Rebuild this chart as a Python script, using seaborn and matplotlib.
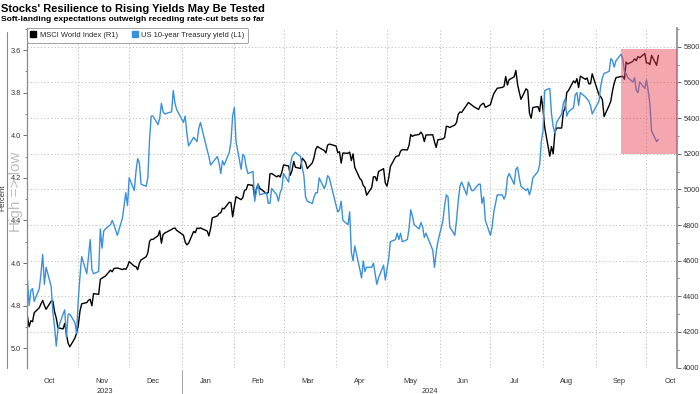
import pandas as pd
import seaborn as sns
import matplotlib.pyplot as plt
import matplotlib.dates as mdates
import matplotlib.ticker as mticker
import matplotlib.transforms as mtransforms
from matplotlib.lines import Line2D
from matplotlib.patches import Rectangle

# trading days shown: Oct 2 2023 - Oct 8 2024, US market holidays removed
holidays = ["2023-11-23", "2023-12-25", "2024-01-01", "2024-01-15", "2024-02-19",
            "2024-03-29", "2024-05-27", "2024-06-19", "2024-07-04", "2024-09-02"]
dates = pd.bdate_range("2023-10-02", "2024-10-08")
dates = dates[~dates.isin(pd.to_datetime(holidays))]

# MSCI World Index (R1), one row per month
msci = [
    4288, 4229, 4263, 4258, 4308, 4336, 4358, 4377, 4349, 4327, 4373, 4373, 4314, 4278, 4224, 4217, 4248, 4186, 4137, 4117, 4166, 4194,
    4237, 4318, 4358, 4365, 4378, 4383, 4347, 4415, 4411, 4496, 4502, 4508, 4514, 4547, 4538, 4556, 4559, 4550, 4555, 4551, 4568,
    4595, 4569, 4567, 4549, 4585, 4604, 4622, 4644, 4707, 4720, 4719, 4740, 4768, 4698, 4747, 4755, 4775, 4781, 4783, 4770,
    4743, 4705, 4689, 4697, 4764, 4757, 4783, 4780, 4784, 4766, 4739, 4780, 4840, 4851, 4865, 4869, 4894, 4891, 4928, 4925, 4846,
    4906, 4959, 4942, 4954, 4995, 4998, 5027, 5022, 4953, 5001, 5030, 5006, 4976, 4982, 5087, 5089, 5070, 5078, 5069, 5096,
    5137, 5131, 5079, 5105, 5157, 5124, 5117, 5175, 5165, 5150, 5117, 5149, 5179, 5225, 5241, 5234, 5218, 5204, 5248, 5254,
    5243, 5205, 5211, 5147, 5204, 5202, 5209, 5161, 5199, 5123, 5061, 5051, 5022, 5011, 4967, 5010, 5070, 5071, 5048, 5100, 5116, 5036,
    5018, 5064, 5128, 5181, 5187, 5188, 5214, 5223, 5221, 5247, 5308, 5297, 5303, 5308, 5321, 5307, 5268, 5305, 5306, 5267, 5235, 5278,
    5283, 5291, 5354, 5352, 5347, 5361, 5375, 5421, 5434, 5431, 5473, 5487, 5473, 5465, 5448, 5469, 5478, 5483, 5460,
    5475, 5509, 5537, 5567, 5572, 5577, 5633, 5585, 5615, 5631, 5667, 5588, 5545, 5505, 5564, 5555, 5427, 5399, 5459, 5464, 5436, 5522,
    5447, 5347, 5186, 5240, 5199, 5319, 5344, 5344, 5435, 5455, 5543, 5554, 5608, 5597, 5621, 5571, 5635, 5617, 5625, 5592, 5592, 5648,
    5529, 5520, 5503, 5408, 5471, 5496, 5554, 5596, 5626, 5633, 5634, 5618, 5714, 5703, 5718, 5732, 5722, 5745, 5738, 5762,
    5709, 5709, 5700, 5751, 5696, 5751,
]

# US 10-year Treasury yield (L1), percent
ust10y = [
    4.68, 4.80, 4.73, 4.72, 4.78, 4.72, 4.65, 4.56, 4.70, 4.62, 4.71, 4.83, 4.90, 4.99, 4.91, 4.84, 4.82, 4.95, 4.84, 4.84, 4.88, 4.93,
    4.77, 4.66, 4.57, 4.65, 4.57, 4.49, 4.63, 4.65, 4.64, 4.44, 4.53, 4.45, 4.44, 4.42, 4.40, 4.42, 4.47, 4.39, 4.33, 4.27, 4.33,
    4.20, 4.26, 4.17, 4.11, 4.13, 4.23, 4.24, 4.20, 4.02, 3.91, 3.91, 3.95, 3.92, 3.85, 3.89, 3.90, 3.89, 3.79, 3.85, 3.88,
    3.94, 3.91, 3.99, 4.05, 4.01, 4.02, 4.03, 3.97, 3.94, 4.07, 4.10, 4.14, 4.13, 4.10, 4.13, 4.18, 4.12, 4.14, 4.08, 4.03, 3.91,
    3.87, 4.03, 4.16, 4.09, 4.10, 4.15, 4.18, 4.17, 4.31, 4.26, 4.23, 4.28, 4.27, 4.32, 4.32, 4.25, 4.28, 4.31, 4.27, 4.25,
    4.18, 4.22, 4.14, 4.10, 4.09, 4.08, 4.10, 4.15, 4.19, 4.29, 4.31, 4.32, 4.29, 4.27, 4.27, 4.20, 4.25, 4.23, 4.19, 4.20,
    4.33, 4.36, 4.35, 4.31, 4.40, 4.42, 4.36, 4.55, 4.59, 4.52, 4.63, 4.67, 4.59, 4.64, 4.62, 4.62, 4.60, 4.65, 4.70, 4.67, 4.61, 4.68,
    4.63, 4.58, 4.50, 4.49, 4.46, 4.49, 4.46, 4.50, 4.49, 4.44, 4.35, 4.38, 4.42, 4.44, 4.41, 4.43, 4.48, 4.46, 4.54, 4.62, 4.55, 4.50,
    4.40, 4.33, 4.28, 4.29, 4.43, 4.47, 4.40, 4.31, 4.24, 4.22, 4.28, 4.22, 4.26, 4.26, 4.23, 4.23, 4.32, 4.29, 4.40,
    4.47, 4.43, 4.36, 4.28, 4.28, 4.30, 4.28, 4.20, 4.18, 4.23, 4.16, 4.15, 4.20, 4.24, 4.26, 4.25, 4.28, 4.25, 4.20, 4.17, 4.14, 4.03,
    3.98, 3.79, 3.78, 3.90, 3.96, 3.99, 3.94, 3.90, 3.85, 3.83, 3.91, 3.89, 3.87, 3.81, 3.80, 3.86, 3.80, 3.82, 3.83, 3.84, 3.86, 3.90,
    3.84, 3.77, 3.73, 3.71, 3.70, 3.64, 3.65, 3.68, 3.65, 3.62, 3.64, 3.70, 3.71, 3.73, 3.75, 3.73, 3.79, 3.80, 3.75, 3.78,
    3.74, 3.79, 3.85, 3.98, 4.03, 4.02,
]

# highlighted box (R1 units)
box_start = "2024-09-16"
box_low, box_high = 5200, 5785

df = pd.DataFrame({"date": dates, "msci": msci, "yield": ust10y})

sns.set_theme(style="white")
plt.rcParams["font.family"] = ["Liberation Sans", "DejaVu Sans"]

blue = "#3a91db"
tick_col = "#333333"

fig = plt.figure(figsize=(7, 3.94), dpi=100)
ax = fig.add_axes([27 / 700, 1 - 368 / 394, 650 / 700, 340 / 394])
ax_l = ax.twinx()
ax.yaxis.tick_right()
ax_l.yaxis.tick_left()

sns.lineplot(data=df, x="date", y="msci", ax=ax, color="black", linewidth=1.0)
sns.lineplot(data=df, x="date", y="yield", ax=ax_l, color=blue, linewidth=1.0)

xmin, xmax = pd.Timestamp("2023-10-01 18:00"), pd.Timestamp("2024-10-19")
ax.set_xlim(xmin, xmax)
ax.set_ylim(3998, 5905)
ax_l.set_ylim(5.093, 3.4965)
for a in (ax, ax_l):
    a.set_xlabel("")
    a.set_ylabel("")
    for s in a.spines.values():
        s.set_visible(False)
ax.spines["right"].set_visible(True)
ax.spines["right"].set_color("#8a8a8a")
ax.spines["right"].set_linewidth(1.2)
ax_l.spines["left"].set_visible(True)
ax_l.spines["left"].set_color("#8a8a8a")
ax_l.spines["left"].set_linewidth(0.9)

# right axis
ax.yaxis.set_major_locator(mticker.MultipleLocator(200))
ax.yaxis.set_minor_locator(mticker.MultipleLocator(100))
ax.yaxis.set_major_formatter(mticker.FormatStrFormatter("%d"))
ax.tick_params(axis="y", which="major", direction="out", length=3, width=0.6,
               color="#555555", labelsize=5.3, labelcolor=tick_col, pad=1.5)
ax.tick_params(axis="y", which="minor", direction="out", length=1.5, width=0.5, color="#555555")

# left axis
ax_l.yaxis.set_major_locator(mticker.MultipleLocator(0.2))
ax_l.yaxis.set_minor_locator(mticker.MultipleLocator(0.1))
ax_l.yaxis.set_major_formatter(mticker.FormatStrFormatter("%.1f"))
ax_l.tick_params(axis="y", which="major", direction="out", length=3, width=0.6,
                 color="#555555", labelsize=5.3, labelcolor=tick_col, pad=1.5)
ax_l.tick_params(axis="y", which="minor", direction="out", length=1.5, width=0.5, color="#555555")

# x axis: ticks at month starts, labels mid-month
ax.xaxis.set_major_locator(mdates.MonthLocator())
ax.xaxis.set_major_formatter(mticker.NullFormatter())
ax.xaxis.set_minor_locator(mdates.MonthLocator(bymonthday=15))
ax.xaxis.set_minor_formatter(mdates.DateFormatter("%b"))
ax.tick_params(axis="x", which="major", direction="out", length=3, width=0.6, color="#555555")
ax.tick_params(axis="x", which="minor", length=0, labelsize=5.3, labelcolor=tick_col, pad=7.5)
ax_l.tick_params(axis="x", which="both", length=0, labelbottom=False)

ax.grid(True, which="major", axis="both", color="#b5b5b5", linestyle=(0, (1, 2.5)), linewidth=0.7)
ax.set_axisbelow(True)

# year labels and separator
trans = mtransforms.blended_transform_factory(ax.transData, ax.transAxes)
jan1 = pd.Timestamp("2024-01-01")
ax.add_line(Line2D([jan1, jan1], [-0.005, -0.085], transform=trans, color="#999999",
                   linewidth=0.6, clip_on=False))
ax.text(xmin + (jan1 - xmin) / 2, -0.07, "2023", transform=trans, ha="center", va="center",
        fontsize=5.3, color=tick_col)
ax.text(jan1 + (xmax - jan1) / 2, -0.07, "2024", transform=trans, ha="center", va="center",
        fontsize=5.3, color=tick_col)

# highlight box, drawn over both lines
x0 = mdates.date2num(pd.Timestamp(box_start))
rect = Rectangle((x0, box_low), mdates.date2num(xmax) - x0, box_high - box_low,
                 transform=ax.transData, facecolor="#eb3c50", alpha=0.45, edgecolor="none", zorder=6)
ax_l.add_patch(rect)

handles = [
    Line2D([], [], marker="s", linestyle="none", color="black", markersize=4.5, label="MSCI World Index (R1)"),
    Line2D([], [], marker="s", linestyle="none", color=blue, markersize=4.5, label="US 10-year Treasury yield (L1)"),
]
leg = ax_l.legend(handles=handles, loc="upper left", bbox_to_anchor=(0, 1), borderaxespad=0,
                  ncol=2, fontsize=5.4, frameon=True, fancybox=True, edgecolor="#8a8a8a",
                  handlelength=0.7, handletextpad=0.5, columnspacing=1.9, borderpad=0.5)
leg.get_frame().set_linewidth(0.7)
leg.set_zorder(10)

fig.text(1 / 700, 1 - 11.7 / 394, "Stocks' Resilience to Rising Yields May Be Tested",
         fontsize=8, fontweight="bold", va="baseline", ha="left", color="black")
fig.text(1 / 700, 1 - 21 / 394, "Soft-landing expectations outweigh receding rate-cut bets so far",
         fontsize=6.1, fontweight="bold", va="baseline", ha="left", color="black")

fig.text(3 / 700, 1 - 198 / 394, "Percent", rotation=90, fontsize=5.5, ha="center", va="center", color=tick_col)
fig.text(16 / 700, 1 - 192 / 394, "High => low", rotation=90, fontsize=11, ha="center", va="center",
         color="#bdbdbd")
fig.add_artist(Line2D([6.5 / 700, 6.5 / 700], [1 - 32 / 394, 1 - 368 / 394], color="#8a8a8a", linewidth=0.8))

fig.savefig("out.png", dpi=100)
